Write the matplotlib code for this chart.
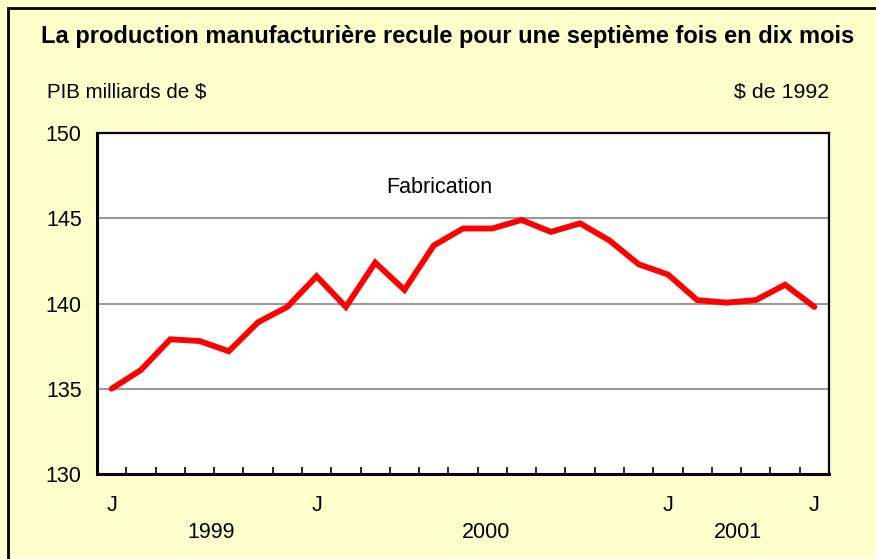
import matplotlib
matplotlib.use("Agg")
import matplotlib.pyplot as plt
import matplotlib.transforms as mtransforms
from matplotlib.patches import Rectangle
import numpy as np

plt.rcParams['font.family'] = ['Liberation Sans', 'DejaVu Sans']

# Data: monthly GDP of manufacturing, June 1999 - June 2001 (billions of 1992 $)
months = ['Jun-99', 'Jul-99', 'Aug-99', 'Sep-99', 'Oct-99', 'Nov-99', 'Dec-99',
          'Jan-00', 'Feb-00', 'Mar-00', 'Apr-00', 'May-00', 'Jun-00', 'Jul-00',
          'Aug-00', 'Sep-00', 'Oct-00', 'Nov-00', 'Dec-00',
          'Jan-01', 'Feb-01', 'Mar-01', 'Apr-01', 'May-01', 'Jun-01']
fabrication = [135.0, 136.1, 137.9, 137.8, 137.2, 138.9, 139.8, 141.6, 139.8,
               142.4, 140.8, 143.4, 144.4, 144.4, 144.9, 144.2, 144.7, 143.7,
               142.3, 141.7, 140.2, 140.05, 140.2, 141.1, 139.8]
label_idx = [0, 7, 19, 24]
label_txt = ['J', 'J', 'J', 'J']
years = ['1999', '2000', '2001']
year_pos = [3.4, 12.8, 21.4]
yticks = [130, 135, 140, 145, 150]

bg = '#FFFFCC'
fig = plt.figure(figsize=(8.76, 5.59), dpi=100, facecolor=bg)
W, H = 876, 559
fs = 15.5

# outer border (left/top visible)
fig.add_artist(Rectangle((8 / W, -0.1), 1.2, (H - 8) / H + 0.1, transform=fig.transFigure,
                         fill=False, edgecolor='black', linewidth=2))

ax = fig.add_axes([97 / W, (H - 474) / H, (829 - 97) / W, (474 - 133) / H])
ax.set_facecolor('white')

x = np.arange(len(months))
ax.plot(x, fabrication, color='#FF0000', linewidth=4.2, solid_joinstyle='miter',
        solid_capstyle='round', zorder=3)

ax.set_xlim(-0.5, len(months) - 0.5)
ax.set_ylim(130, 150)
ax.set_yticks(yticks)
ax.set_yticklabels([str(v) for v in yticks])
ax.yaxis.grid(True, color='#999999', linewidth=1.5)
ax.set_axisbelow(True)
ax.tick_params(axis='y', length=0, pad=11, labelsize=fs)

ax.set_xticks(x[label_idx])
ax.set_xticklabels(label_txt)
ax.set_xticks(np.arange(0.5, len(months) - 1, 1), minor=True)
ax.tick_params(axis='x', which='major', length=0, pad=15, labelsize=fs)
ax.tick_params(axis='x', which='minor', direction='in', length=5, width=1.2, color='black')

for s in ['left', 'bottom']:
    ax.spines[s].set_linewidth(2.2)
    ax.spines[s].set_color('black')
for s in ['right', 'top']:
    ax.spines[s].set_linewidth(1.6)
    ax.spines[s].set_color('black')

trans = mtransforms.blended_transform_factory(ax.transData, fig.transFigure)
for yl, xp in zip(years, year_pos):
    ax.text(xp, (H - 533) / H, yl, transform=trans, ha='center', va='center', fontsize=fs)

ax.text(11.2, 146.8, 'Fabrication', fontsize=fs, ha='center', va='center')

fig.text(448 / W, (H - 37) / H, "La production manufacturière recule pour une septième fois en dix mois",
         ha='center', va='center', fontsize=17, fontweight='bold')
fig.text(47 / W, (H - 92) / H, "PIB milliards de $", ha='left', va='center', fontsize=14.8)
fig.text(829 / W, (H - 92) / H, "$ de 1992", ha='right', va='center', fontsize=15.4)

fig.savefig('out.png', dpi=100, facecolor=bg)
